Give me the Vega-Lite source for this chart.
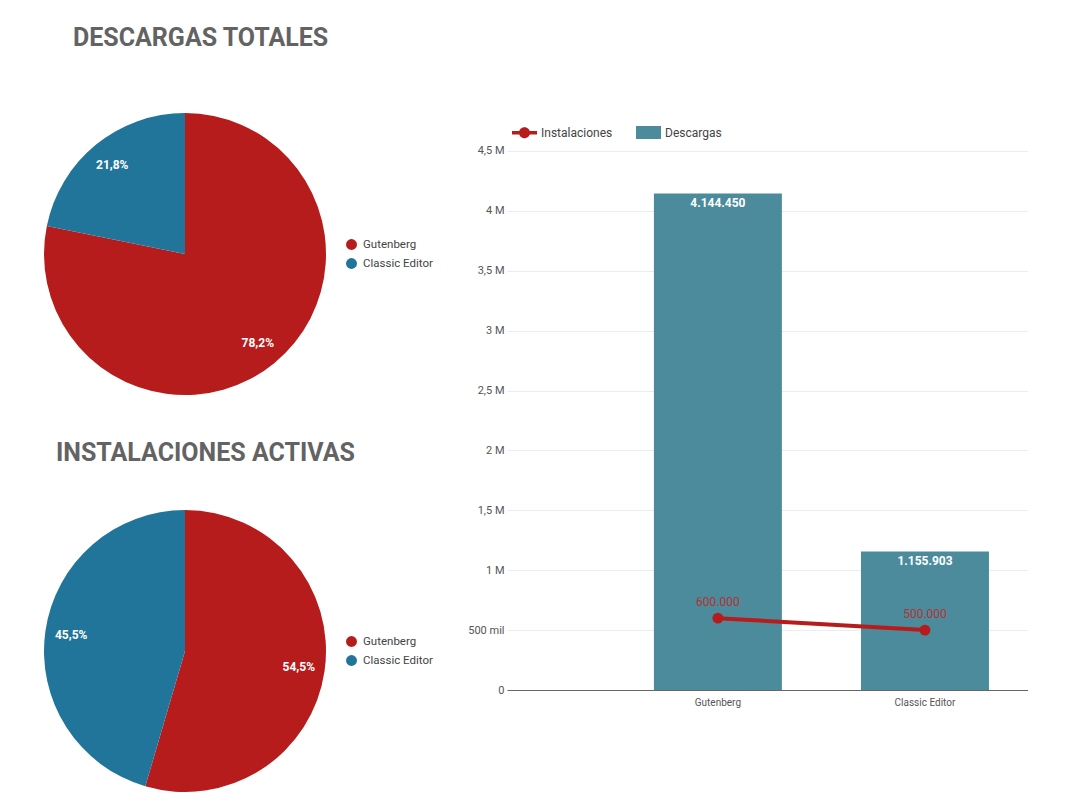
{
  "$schema": "https://vega.github.io/schema/vega-lite/v6.json",
  "background": "white",
  "padding": {"left": 44, "top": 26, "right": 0, "bottom": 0},
  "datasets": {
    "plugins": [
      {"plugin": "Gutenberg", "descargas": 4144450, "instalaciones": 600000},
      {"plugin": "Classic Editor", "descargas": 1155903, "instalaciones": 500000}
    ]
  },
  "data": {"name": "plugins"},
  "hconcat": [
    {
      "vconcat": [
        {
          "title": {"text": "DESCARGAS TOTALES", "anchor": "start", "dx": 29, "offset": 62, "fontSize": 25, "fontWeight": "bold", "color": "#636363"},
          "width": 282,
          "height": 282,
          "transform": [
            {"joinaggregate": [{"op": "sum", "field": "descargas", "as": "total"}]},
            {"calculate": "datum.descargas / datum.total", "as": "share"}
          ],
          "encoding": {
            "theta": {"field": "descargas", "type": "quantitative", "stack": true},
            "order": {"field": "plugin", "type": "ordinal", "sort": "descending"},
            "color": {
              "field": "plugin",
              "type": "nominal",
              "scale": {"domain": ["Gutenberg", "Classic Editor"], "range": ["#b71c1c", "#21759b"]},
              "legend": {"orient": "none", "legendX": 301, "legendY": 125, "title": null, "symbolType": "circle", "symbolSize": 120, "labelFontSize": 11.5, "labelColor": "#444", "rowPadding": 7, "labelOffset": 5}
            }
          },
          "layer": [
            {"mark": {"type": "arc"}},
            {
              "mark": {"type": "text", "radius": 115, "fontSize": 12, "fontWeight": "bold"},
              "encoding": {
                "text": {"field": "share", "type": "quantitative", "format": ".1%"},
                "color": {"value": "white"}
              }
            }
          ]
        },
        {
          "title": {"text": "INSTALACIONES ACTIVAS", "anchor": "start", "dx": 12, "offset": 44, "fontSize": 25, "fontWeight": "bold", "color": "#636363"},
          "width": 282,
          "height": 282,
          "transform": [
            {"joinaggregate": [{"op": "sum", "field": "instalaciones", "as": "total"}]},
            {"calculate": "datum.instalaciones / datum.total", "as": "share"}
          ],
          "encoding": {
            "theta": {"field": "instalaciones", "type": "quantitative", "stack": true},
            "order": {"field": "plugin", "type": "ordinal", "sort": "descending"},
            "color": {
              "field": "plugin",
              "type": "nominal",
              "scale": {"domain": ["Gutenberg", "Classic Editor"], "range": ["#b71c1c", "#21759b"]},
              "legend": {"orient": "none", "legendX": 301, "legendY": 125, "title": null, "symbolType": "circle", "symbolSize": 120, "labelFontSize": 11.5, "labelColor": "#444", "rowPadding": 7, "labelOffset": 5}
            }
          },
          "layer": [
            {"mark": {"type": "arc"}},
            {
              "mark": {"type": "text", "radius": 115, "fontSize": 12, "fontWeight": "bold"},
              "encoding": {
                "text": {"field": "share", "type": "quantitative", "format": ".1%"},
                "color": {"value": "white"}
              }
            }
          ]
        }
      ],
      "spacing": 46,
      "resolve": {"scale": {"color": "independent"}, "legend": {"color": "independent"}}
    },
    {
      "width": 521,
      "height": 577,
      "encoding": {
        "x": {
          "field": "plugin",
          "type": "nominal",
          "sort": ["Gutenberg", "Classic Editor"],
          "scale": {"paddingInner": 0.382, "paddingOuter": 0.449, "align": 0.79},
          "axis": {"title": null, "labelAngle": 0, "ticks": false, "domainColor": "#666", "labelColor": "#555", "labelFontSize": 10, "labelPadding": 7}
        }
      },
      "layer": [
        {
          "mark": {"type": "bar"},
          "encoding": {
            "y": {"field": "descargas", "type": "quantitative", "title": null, "scale": {"domain": [0, 4817000], "nice": false}},
            "color": {
              "datum": "Descargas",
              "type": "nominal",
              "scale": {"domain": ["Instalaciones", "Descargas"], "range": ["#b71c1c", "#4b8b9c"]},
              "legend": {
                "orient": "none",
                "legendX": 5,
                "legendY": 7,
                "direction": "horizontal",
                "title": null,
                "symbolSize": 625,
                "labelFontSize": 12,
                "labelColor": "#444",
                "labelOffset": 4,
                "columnPadding": 23,
                "encode": {
                  "symbols": {
                    "update": {
                      "shape": {"signal": "datum.value === 'Descargas' ? 'M-1,-0.52L1,-0.52L1,0.52L-1,0.52Z' : 'M-1,-0.14L1,-0.14L1,0.14L-1,0.14Z M0.44,0A0.44,0.44,0,1,1,-0.44,0A0.44,0.44,0,1,1,0.44,0Z'"},
                      "fill": {"signal": "datum.value === 'Descargas' ? '#4b8b9c' : '#b71c1c'"},
                      "stroke": {"value": "transparent"},
                      "strokeWidth": {"value": 0},
                      "opacity": {"value": 1}
                    }
                  }
                }
              }
            }
          }
        },
        {
          "mark": {"type": "text", "baseline": "top", "dy": 4, "color": "white", "fontWeight": "bold", "fontSize": 12},
          "encoding": {
            "y": {"field": "descargas", "type": "quantitative", "title": null},
            "text": {"field": "descargas", "type": "quantitative", "format": ","}
          }
        },
        {
          "mark": {"type": "line", "strokeWidth": 4},
          "encoding": {
            "y": {"field": "instalaciones", "type": "quantitative", "title": null},
            "color": {"datum": "Instalaciones", "type": "nominal"}
          }
        },
        {
          "mark": {"type": "point", "filled": true, "size": 120, "opacity": 1},
          "encoding": {
            "y": {"field": "instalaciones", "type": "quantitative", "title": null},
            "color": {"datum": "Instalaciones", "type": "nominal"}
          }
        },
        {
          "mark": {"type": "text", "baseline": "bottom", "dy": -9, "color": "#b8312f", "fontSize": 12},
          "encoding": {
            "y": {"field": "instalaciones", "type": "quantitative", "title": null},
            "text": {"field": "instalaciones", "type": "quantitative", "format": ","}
          }
        }
      ]
    }
  ],
  "spacing": 34,
  "resolve": {"scale": {"color": "independent"}, "legend": {"color": "independent"}},
  "config": {
    "font": "Roboto",
    "view": {"stroke": null},
    "locale": {"number": {"decimal": ",", "thousands": ".", "grouping": [3], "currency": ["", " €"]}},
    "axisY": {
      "grid": true,
      "gridColor": "#ececec",
      "domain": false,
      "ticks": false,
      "labelColor": "#555",
      "labelFontSize": 11,
      "labelPadding": 3,
      "values": [0, 500000, 1000000, 1500000, 2000000, 2500000, 3000000, 3500000, 4000000, 4500000],
      "labelExpr": "datum.value === 0 ? '0' : datum.value < 1000000 ? format(datum.value / 1000, 'd') + ' mil' : format(datum.value / 1000000, '~g') + ' M'"
    }
  }
}
